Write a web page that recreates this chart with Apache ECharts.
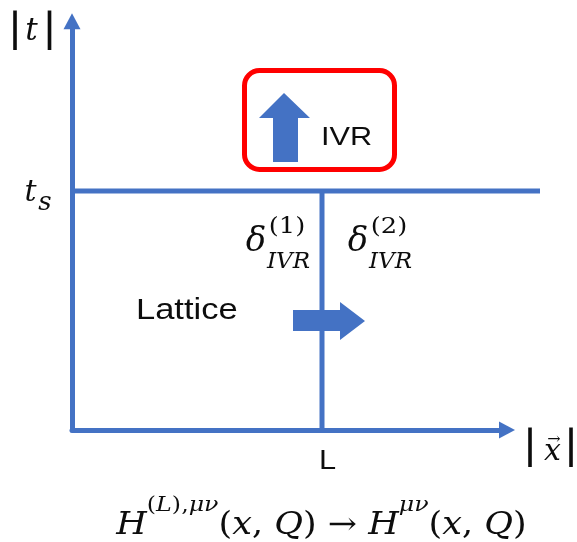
<!DOCTYPE html>
<html>
<head>
<meta charset="utf-8">
<script src="https://cdn.jsdelivr.net/npm/echarts@6/dist/echarts.min.js"></script>
<style>
  html, body { margin: 0; padding: 0; background: #fff; }
  #chart { width: 577px; height: 542px; }
</style>
</head>
<body>
<div id="chart"></div>
<script>
// |x| is measured in units of the lattice size L, |t| in units of t_s.
const axisVars = ['x', 't'];
const latticeSize = 1;        // L on the |x| axis
const switchTime = 1;         // t_s on the |t| axis
const xAxisEnd = 1.74;        // where the |x| axis arrow sits
const tAxisEnd = 1.71;        // where the |t| axis arrow sits
const switchLineEnd = 1.872;  // reach of the t = t_s line along |x|

// Block arrows: extrapolation direction in each regime
const regimeNames = ['IVR', 'Lattice'];
const regimeArrows = [[0.85, 1.266], [1.028, 0.456]];
// Frame around the IVR arrow: [x0, t0, x1, t1]
const ivrFrame = [0.69, 1.504, 1.29, 1.09];

const BLUE = '#4472C4';
const RED = '#FF0000';
const INK = '#0d0d0d';
const SERIF = 'DejaVu Serif';
const SANS = 'Liberation Sans';

const UP_ARROW = 'path://M25 0 L51 25 L39 25 L39 69 L14 69 L14 25 L0 25 Z';
const RIGHT_ARROW = 'path://M0 8 L47 8 L47 0 L72 19 L47 38 L47 29 L0 29 Z';

function glyph(text, dx, dy, size, family, italic, extra) {
  return Object.assign({ text, dx, dy, size, family, italic, align: 'center' }, extra || {});
}

// Bottom caption: lattice hadronic tensor extrapolated to the continuum one
const formula =
  '{mi|H}{s|(}{si|L}{s|),}{si|μν}{m|(}{mi|x}{m|, }{mi|Q}{m|) → }' +
  '{mi|H}{si|μν}{m|(}{mi|x}{m|, }{mi|Q}{m|)}';
const formulaRich = {
  m:  { fontFamily: SERIF, fontSize: 31, fontStyle: 'normal', lineHeight: 46, verticalAlign: 'bottom', fill: INK },
  mi: { fontFamily: SERIF, fontSize: 31, fontStyle: 'italic', lineHeight: 46, verticalAlign: 'bottom', fill: INK },
  s:  { fontFamily: SERIF, fontSize: 21, fontStyle: 'normal', lineHeight: 18, verticalAlign: 'top', fill: INK },
  si: { fontFamily: SERIF, fontSize: 21, fontStyle: 'italic', lineHeight: 18, verticalAlign: 'top', fill: INK }
};

function deltaLabel(order, shift) {
  return [
    glyph('δ', -66 + shift, 51, 34, SERIF, true),
    glyph('(' + order + ')', -35 + shift, 36.5, 23, SERIF, false, { scaleX: 1.12 }),
    glyph('IVR', -33.5 + shift, 70.6, 23, SERIF, true)
  ];
}

const annotations = [
  { at: [0, tAxisEnd], parts: [
      glyph('|', -57, 9, 40, SERIF, false, { scaleX: 1.15 }),
      glyph(axisVars[1], -40.5, 11, 31, SERIF, true),
      glyph('|', -22.5, 9, 40, SERIF, false, { scaleX: 1.15 })
  ] },
  { at: [0, switchTime], parts: [
      glyph('t', -41.5, 2.4, 30, SERIF, true),
      glyph('s', -27, 12.5, 26, SERIF, true)
  ] },
  { at: [latticeSize, 0], parts: [
      glyph('L', 5.5, 31, 28, SANS, false, { scaleX: 1.1 }),
      glyph(formula, -0.5, 88, 31, SERIF, false, { rich: formulaRich, scaleX: 1.13 })
  ] },
  { at: [xAxisEnd, 0], parts: [
      glyph('|', 23, 17.8, 40, SERIF, false, { scaleX: 1.15 }),
      glyph(axisVars[0], 45.5, 22.4, 30, SERIF, true),
      glyph('→', 47, 10, 16, SERIF, false),
      glyph('|', 64, 17.8, 40, SERIF, false, { scaleX: 1.15 })
  ] },
  { at: [latticeSize, switchTime], parts: deltaLabel(1, 0).concat(deltaLabel(2, 102)) },
  { at: [0.256, 0.498], parts: [
      glyph(regimeNames[1], 0, 0, 30, SANS, false, { align: 'left', scaleX: 1.15 })
  ] },
  { at: [0.996, 1.224], parts: [
      glyph(regimeNames[0], 0, 0, 26, SANS, false, { align: 'left', scaleX: 1.18 })
  ] }
];

function renderAnnotation(params, api) {
  const a = annotations[params.dataIndex];
  const p = api.coord([api.value(0), api.value(1)]);
  return {
    type: 'group', x: p[0], y: p[1],
    children: a.parts.map(g => ({
      type: 'text', x: g.dx, y: g.dy, scaleX: g.scaleX || 1,
      style: {
        text: g.text, fill: INK, fontSize: g.size, fontFamily: g.family,
        fontStyle: g.italic ? 'italic' : 'normal',
        align: g.align, verticalAlign: 'middle', rich: g.rich
      }
    }))
  };
}

function renderFrame(params, api) {
  const a = api.coord([api.value(0), api.value(1)]);
  const b = api.coord([api.value(2), api.value(3)]);
  return {
    type: 'rect',
    shape: { x: a[0], y: a[1], width: b[0] - a[0], height: b[1] - a[1], r: 15 },
    style: { fill: 'none', stroke: RED, lineWidth: 5 }
  };
}

function renderSegment(params, api) {
  const a = api.coord([api.value(0), api.value(1)]);
  const b = api.coord([api.value(2), api.value(3)]);
  return {
    type: 'line',
    shape: { x1: a[0], y1: a[1], x2: b[0], y2: b[1] },
    style: { stroke: BLUE, lineWidth: 5 }
  };
}

const axisLineStyle = {
  show: true,
  symbol: ['none', 'triangle'],
  symbolSize: [17, 16],
  lineStyle: { color: BLUE, width: 5 }
};

const chart = echarts.init(document.getElementById('chart'));
chart.setOption({
  animation: false,
  backgroundColor: '#fff',
  grid: { left: 72, width: 435, bottom: 112, height: 408.7 },
  xAxis: {
    type: 'value', min: 0, max: xAxisEnd,
    axisLine: axisLineStyle, axisTick: { show: false },
    axisLabel: { show: false }, splitLine: { show: false }
  },
  yAxis: {
    type: 'value', min: 0, max: tAxisEnd,
    axisLine: axisLineStyle, axisTick: { show: false },
    axisLabel: { show: false }, splitLine: { show: false }
  },
  series: [
    {
      name: 'boundaries', type: 'custom', clip: false, silent: true,
      data: [
        [0, switchTime, switchLineEnd, switchTime],     // t = t_s
        [latticeSize, 0, latticeSize, switchTime]       // |x| = L
      ],
      renderItem: renderSegment
    },
    {
      name: 'frame', type: 'custom', clip: false, silent: true,
      data: [ivrFrame], renderItem: renderFrame
    },
    {
      name: 'regimes', type: 'scatter', clip: false, silent: true,
      itemStyle: { color: BLUE, opacity: 1 },
      data: [
        { name: regimeNames[0], value: regimeArrows[0], symbol: UP_ARROW, symbolSize: [51, 69] },
        { name: regimeNames[1], value: regimeArrows[1], symbol: RIGHT_ARROW, symbolSize: [72, 38] }
      ]
    },
    {
      name: 'labels', type: 'custom', clip: false, silent: true,
      data: annotations.map(a => a.at), renderItem: renderAnnotation
    }
  ]
});
</script>
</body>
</html>
